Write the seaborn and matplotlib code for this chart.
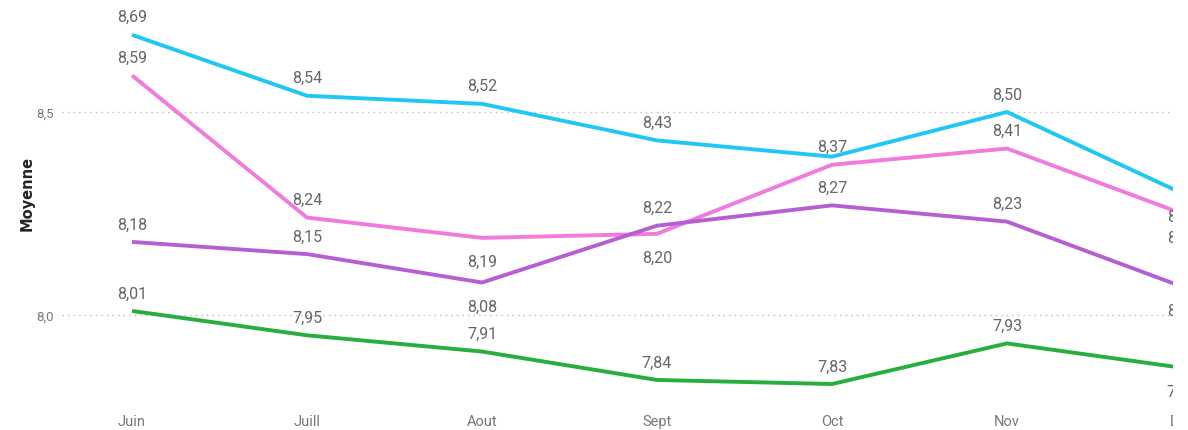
import matplotlib
matplotlib.use("Agg")
import matplotlib.pyplot as plt
import seaborn as sns
import pandas as pd
from matplotlib.patches import Rectangle

months = ["Juin", "Juill", "Aout", "Sept", "Oct", "Nov", "Déc"]
serie_cyan = [8.69, 8.54, 8.52, 8.43, 8.39, 8.50, 8.30]
serie_rose = [8.59, 8.24, 8.19, 8.20, 8.37, 8.41, 8.25]
serie_violet = [8.18, 8.15, 8.08, 8.22, 8.27, 8.23, 8.07]
serie_vert = [8.01, 7.95, 7.91, 7.84, 7.83, 7.93, 7.87]
yticks = [8.0, 8.5]
ytick_labels = ["8,0", "8,5"]
y_title = "Moyenne"

# label placement: 'a' above, 'b' below, None hidden
place = {
    "cyan": ["a", "a", "a", "a", None, "a", "b"],
    "rose": ["a", "a", "b", "b", "a", "a", "b"],
    "violet": ["a", "a", "b", "a", "a", "a", "b"],
    "vert": ["a", "a", "a", "a", "a", "a", "b"],
}
colors = {"cyan": "#1FC7F2", "rose": "#F27ADC", "violet": "#B55FD2", "vert": "#27AE3E"}

series = {"cyan": serie_cyan, "rose": serie_rose, "violet": serie_violet, "vert": serie_vert}
rows = []
for name, vals in series.items():
    for i, v in enumerate(vals):
        rows.append({"mois": i, "serie": name, "valeur": v})
df = pd.DataFrame(rows)

sns.set_theme(style="white")
plt.rcParams["font.family"] = ["Roboto", "DejaVu Sans"]

W, H = 1188, 431
fig = plt.figure(figsize=(W / 100, H / 100), dpi=100)
left_px, right_px, top_px, bot_px = 62, 1210, 0, 400
clip_px = 1173
x0_px, dx_px = 132, 175
ax = fig.add_axes([left_px / W, 1 - bot_px / H, (right_px - left_px) / W, (bot_px - top_px) / H])

sns.lineplot(data=df, x="mois", y="valeur", hue="serie", palette=colors,
             linewidth=2.8, legend=False, ax=ax, sort=False)
for l in ax.lines:
    l.set_solid_capstyle("butt")

ax.set_yticks(yticks)
ax.set_yticklabels(ytick_labels)
ax.set_xticks(range(len(months)))
ax.set_xticklabels(months)

# scales: 8.0 at y=316px, 406 px per unit
ax.set_ylim(8 - (bot_px - 316) / 406, 8 + (316 - top_px) / 406)
ax.set_xlim((left_px - x0_px) / dx_px, (right_px - x0_px) / dx_px)

for name, vals in series.items():
    for i, v in enumerate(vals):
        p = place[name][i]
        if p is None:
            continue
        dy = 13 if p == "a" else -17
        ax.annotate(f"{v:.2f}".replace(".", ","), (i, v), xytext=(0, dy),
                    textcoords="offset points", ha="center", va="center",
                    fontsize=11.5, color="#666666", annotation_clip=False)

ax.tick_params(axis="y", length=0, pad=6, labelsize=9.5, labelcolor="#777777")
ax.tick_params(axis="x", length=0, pad=11, labelsize=10.5, labelcolor="#777777")
ax.grid(axis="y", linestyle=(0, (1, 3)), color="#bbbbbb", linewidth=1)
ax.grid(axis="x", visible=False)
for s in ax.spines.values():
    s.set_visible(False)
ax.set_xlabel("")
ax.set_ylabel(y_title, fontsize=10.5, color="#252423", fontweight="bold",
              family=["DejaVu Sans"])
ax.yaxis.set_label_coords(-(left_px - 35) / (right_px - left_px), 1 - 193 / (bot_px - top_px))

# the reference is cropped at the right edge
fig.add_artist(Rectangle((clip_px / W, 0), 1, 1, transform=fig.transFigure,
                         facecolor="white", edgecolor="none", zorder=100))

fig.savefig("out.png", dpi=100)
